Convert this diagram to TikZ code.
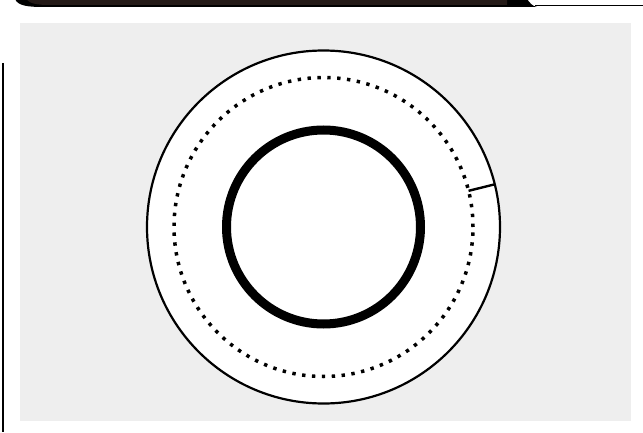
\documentclass[tikz,border=0pt]{standalone}
\usepackage{xcolor}
\usepackage{tikz}
\usetikzlibrary{positioning}
\definecolor{DSKbar}{HTML}{241A17}
\definecolor{DSKgray}{HTML}{EEEEEE}
\tikzset{
  ringouter/.style={circle, draw=black, fill=white, line width=2.2pt, minimum size=353pt, inner sep=0pt, outer sep=0pt},
  ringdots/.style={circle, draw=black, line width=3.5pt, dash pattern=on 3.4pt off 6.5pt, minimum size=299pt, inner sep=0pt, outer sep=0pt},
  ringinner/.style={circle, draw=black, line width=9pt, minimum size=194pt, inner sep=0pt, outer sep=0pt},
  ticklink/.style={line width=2.4pt, draw=black}
}

\begin{document}
\begin{tikzpicture}[x=1pt, y=1pt]
\useasboundingbox (0,0) rectangle (643,432);
% header band
\fill[black] (15,433) .. controls (18,426) and (28,425) .. (45,425) -- (537,425) .. controls (532,426) and (530,429) .. (527,433) -- cycle;
\fill[DSKbar] (26,433) .. controls (30,428) and (38,427) .. (50,427) -- (507,427) -- (507,433) -- cycle;
\draw[line width=1pt] (535,426.2) -- (643,426.2);
% left rule and panel
\draw[line width=1.8pt] (2.7,369) -- (2.7,0);
\fill[DSKgray] (20,11) rectangle (631,409);
% disc
\coordinate (ctr) at (323.5,205);
\node[ringouter] (outer) at (ctr) {};
\node[ringdots] (dots) at (ctr) {};
\node[ringinner] (inner) at (ctr) {};
\draw[ticklink] (dots.14) -- (outer.14);
\end{tikzpicture}
\end{document}
